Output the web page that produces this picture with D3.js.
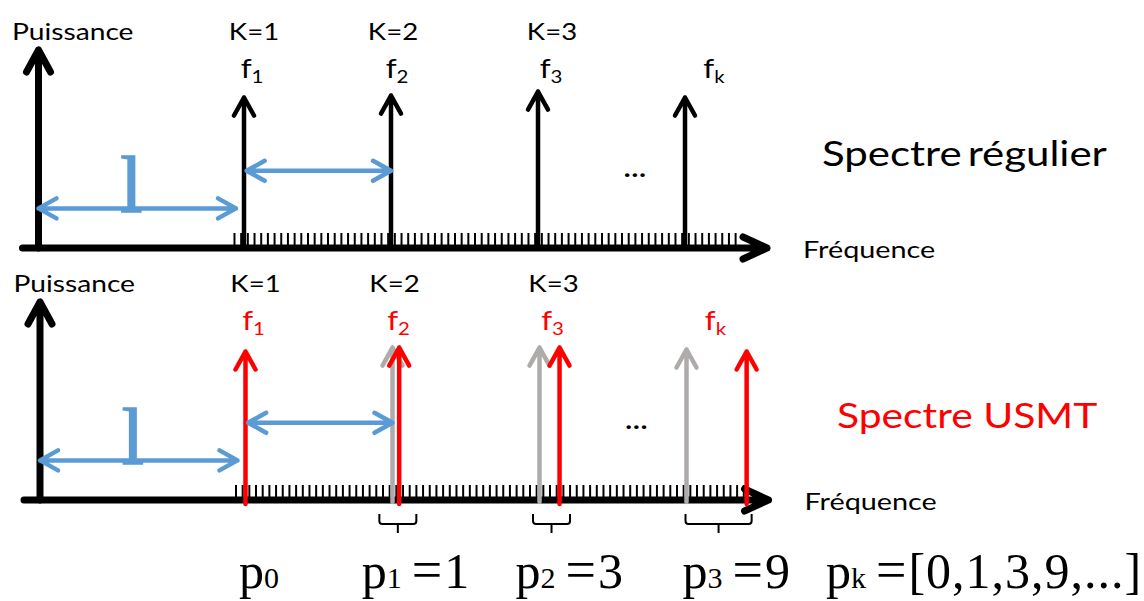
<!DOCTYPE html>
<html>
<head>
<meta charset="utf-8">
<script src="https://cdn.jsdelivr.net/npm/d3@7"></script>
<style>
    body { margin: 0; background: #fff; }
    svg { display: block; }
</style>
</head>
<body>
<div id="chart"></div>
<script>
// ---- data ----
const kLabels = ['K=1', 'K=2', 'K=3'];
const fSubs = ['1', '2', '3', 'k'];
const harmonicBins = [0, 22, 44, 66];          // regular harmonics, in tick bins
const regularPower = [0.76, 0.77, 0.79, 0.76];
const usmtShift = [0, 1, 3, 9];                // p_k, in tick bins
const usmtPower = [0.75, 0.77, 0.77, 0.75];
const ghostPower = [0.77, 0.77, 0.76];         // grey = old positions of k=2..k
const pSubs = ['0', '1', '2', '3'];
const pValues = [null, 1, 3, 9];
const pkList = ['0', '1', '3', '9', '...'];
const topTickBins = d3.range(-1.5, 74, 1);
const bottomTickBins = d3.range(-1.5, 75, 1);

// ---- layout ----
const W = 1144, H = 601;
const SANS = 'Lato, "Open Sans", sans-serif';
const SERIF = '"Liberation Serif", "DejaVu Serif", serif';
const SX = 1.2;                 // the picture is stretched horizontally
const BLUE = '#5B9BD5', RED = '#FF0000', GREY = '#AFABAB';
const panelShift = 252;

const x = d3.scaleLinear().domain([0, 66]).range([244, 685]);
const y = d3.scaleLinear().domain([0, 1]).range([248, 50]);

const svg = d3.select('#chart').append('svg')
    .attr('width', W).attr('height', H);

const headPath = (p, tx, ty, ux, uy, len, half) => {
    const bx = tx - ux * len, by = ty - uy * len;
    p.moveTo(bx - uy * half, by + ux * half);
    p.lineTo(tx, ty);
    p.lineTo(bx + uy * half, by - ux * half);
};

const arrow = (g, x0, y0, x1, y1, o) => {
    const p = d3.path();
    const d = Math.hypot(x1 - x0, y1 - y0);
    const ux = (x1 - x0) / d, uy = (y1 - y0) / d;
    p.moveTo(x0, y0);
    p.lineTo(x1, y1);
    headPath(p, x1, y1, ux, uy, o.len, o.half);
    if (o.both) headPath(p, x0, y0, -ux, -uy, o.len, o.half);
    g.append('path')
        .attr('d', p.toString())
        .attr('fill', 'none')
        .attr('stroke', o.color || '#000')
        .attr('stroke-width', o.width)
        .attr('stroke-linecap', 'round')
        .attr('stroke-linejoin', 'round');
};

const label = (g, tx, ty, size, fill, anchor, family, sx) => g.append('text')
    .attr('transform', 'translate(' + tx + ',' + ty + ') scale(' + (sx || SX) + ',1)')
    .attr('font-family', family || SANS)
    .attr('font-size', size)
    .attr('fill', fill)
    .attr('text-anchor', anchor || 'start');

const kDx = [10, 2, 14];
const fDx = [8, 6, 13, 29];

const drawPanel = (g, o) => {
    // tick marks along the frequency axis
    g.append('g')
        .attr('transform', 'translate(0,' + (y(0) - 3) + ')')
        .call(d3.axisBottom(x).tickValues(o.ticks).tickSize(-12).tickFormat(''))
        .call(a => a.select('.domain').remove())
        .call(a => a.selectAll('line').attr('stroke-width', 2));

    // axes
    arrow(g, 22.5, y(0), 767, y(0), {len: 24, half: 11, width: 7});
    arrow(g, 38.5, y(0), 38.5, y(1), {len: 22, half: 12, width: 7});

    label(g, 12, 40, 23.5, '#000').text('Puissance');
    label(g, 803, 258, 24, '#000').text('Fréquence');

    kLabels.forEach((t, i) => {
        label(g, x(harmonicBins[i]) + kDx[i], 40, 23, '#000', 'middle').text(t);
    });
    fSubs.forEach((s, i) => {
        const t = label(g, x(harmonicBins[i]) + fDx[i], 78, 26, o.fColor, 'middle');
        t.append('tspan').text('f');
        t.append('tspan').attr('font-size', 17).attr('dy', 5).text(s);
    });

    o.spikes(g);

    // spacing arrows
    arrow(g, 38.5, y(0.2), x(-1.2), y(0.2), {len: 18, half: 10, width: 4.5, color: BLUE, both: true});
    arrow(g, x(0.4), y(0.39), x(22), y(0.39), {len: 18, half: 10, width: 4.5, color: BLUE, both: true});
    label(g, (38.5 + x(-1.2)) / 2 - 6, y(0.18), 80, BLUE, 'middle', SERIF, 1)
        .attr('stroke', BLUE).attr('stroke-width', 1.5)
        .text('l');

    label(g, x(58.5), y(0.36), 24, '#000', 'middle').attr('font-weight', 700).text('…');
};

// ---- top panel: regular spectrum ----
const topPanel = svg.append('g');
drawPanel(topPanel, {
    ticks: topTickBins,
    fColor: '#000',
    spikes: g => {
        harmonicBins.forEach((b, i) => {
            arrow(g, x(b), y(0), x(b), y(regularPower[i]), {len: 18, half: 10, width: 4.5});
        });
    }
});
label(topPanel, 822, 166, 35, '#000').attr('word-spacing', -4).text('Spectre régulier');

// ---- bottom panel: USMT spectrum ----
const bottomPanel = svg.append('g').attr('transform', 'translate(1.5,' + panelShift + ')');
drawPanel(bottomPanel, {
    ticks: bottomTickBins,
    fColor: RED,
    spikes: g => {
        harmonicBins.slice(1).forEach((b, i) => {
            arrow(g, x(b), y(0) + 2, x(b), y(ghostPower[i]), {len: 18, half: 10, width: 4.5, color: GREY});
        });
        harmonicBins.forEach((b, i) => {
            const xx = x(b + usmtShift[i]);
            arrow(g, xx, y(0) + 4, xx, y(usmtPower[i]), {len: 18, half: 10, width: 4.5, color: RED});
        });
    }
});
label(svg, 837, 428, 34, RED).text('Spectre USMT');

// braces marking the shift p_k
const braceTop = 262, braceBar = 272, braceTip = 281;
const braceCenters = [];
harmonicBins.slice(1).forEach((b, i) => {
    const g0 = x(b), r0 = x(b + usmtShift[i + 1]);
    const c = (g0 + r0) / 2 + 2;
    const half = Math.max(18.5, (r0 - g0) / 2 + 3);
    braceCenters.push(c);
    const p = d3.path();
    p.moveTo(c - half, braceTop);
    p.lineTo(c - half, braceBar - 3);
    p.quadraticCurveTo(c - half, braceBar, c - half + 3, braceBar);
    p.lineTo(c + half - 3, braceBar);
    p.quadraticCurveTo(c + half, braceBar, c + half, braceBar - 3);
    p.lineTo(c + half, braceTop);
    p.moveTo(c, braceBar);
    p.lineTo(c, braceTip);
    bottomPanel.append('path').attr('d', p.toString())
        .attr('fill', 'none').attr('stroke', '#000').attr('stroke-width', 2);
});

// p_k labels
const pLabel = (tx, sub, rest, spacing) => {
    const t = svg.append('text')
        .attr('x', tx).attr('y', 588)
        .attr('font-family', SERIF).attr('font-size', 50);
    t.append('tspan').text('p');
    t.append('tspan').attr('font-size', 30).text(sub);
    if (rest) {
        t.append('tspan').attr('dx', 10).attr('font-size', 54).text('=');
        t.append('tspan').attr('dx', 2).attr('letter-spacing', spacing || 0).text(rest);
    }
    return t;
};
pLabel(x(0) - 5, pSubs[0], null);
pValues.slice(1).forEach((v, i) => {
    pLabel(braceCenters[i] + 1.5 - 36, pSubs[i + 1], String(v));
});
pLabel(826, 'k', '[' + pkList.join(',') + ']', 1);
</script>
</body>
</html>
